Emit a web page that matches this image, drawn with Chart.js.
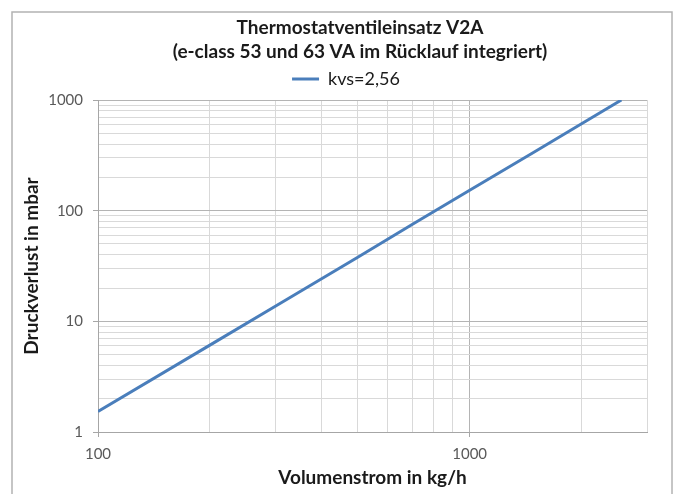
<!DOCTYPE html>
<html><head><meta charset="utf-8">
<script src="https://cdn.jsdelivr.net/npm/chart.js@4/dist/chart.umd.min.js"></script>
<style>html,body{margin:0;padding:0;background:#fff}#wrap{width:674px;height:494px;position:relative}</style>
</head><body><div id="wrap"><canvas id="c" width="674" height="494"></canvas></div>
<script>
// ---- data ----
const seriesName = 'kvs=2,56';
const flowValues = [100, 200, 300, 500, 700, 1000, 1500, 2000, 2560];      // Volumenstrom kg/h
const pressureValues = [1.53, 6.1, 13.7, 38, 75, 153, 343, 610, 1000];      // Druckverlust mbar
const xGridTicks = [100, 200, 300, 400, 500, 600, 700, 800, 900, 1000, 2000, 3000];
const yGridTicks = [1, 2, 3, 4, 5, 6, 7, 8, 9, 10, 20, 30, 40, 50, 60, 70, 80, 90, 100, 200, 300, 400, 500, 600, 700, 800, 900, 1000];
const xTickLabels = [100, 1000];
const yTickLabels = [1, 10, 100, 1000];
const titleLines = ['Thermostatventileinsatz V2A', '(e-class 53 und 63 VA im Rücklauf integriert)'];
const xTitle = 'Volumenstrom in kg/h';
const yTitle = 'Druckverlust in mbar';

const MAJOR = '#b4b4b4', MINOR = '#d9d9d9', AXIS = '#a6a6a6', BLUE = '#4a7ebb';
const FONT = 'Lato';

const framePlugin = {
  id: 'frame',
  beforeDraw(chart) {
    const ctx = chart.ctx;
    ctx.save();
    ctx.fillStyle = '#fff';
    ctx.fillRect(0, 0, chart.width, chart.height);
    ctx.strokeStyle = '#b3b3b3';
    ctx.lineWidth = 1.5;
    ctx.strokeRect(12, 12, 660, 500);
    ctx.restore();
  },
  afterLayout(chart) {
    if (chart.titleBlock) { chart.titleBlock.left = 46; chart.titleBlock.right = 674; }
    if (chart.legend) { chart.legend.left = 19; chart.legend.right = 673; }
  }
};

const data = {
  datasets: [{
    label: seriesName,
    data: flowValues.map((x, i) => ({x: x, y: pressureValues[i]})),
    borderColor: BLUE,
    backgroundColor: BLUE,
    borderWidth: 3,
    pointRadius: 0,
    tension: 0,
    fill: false
  }]
};

new Chart(document.getElementById('c'), {
  type: 'line',
  data: data,
  plugins: [framePlugin],
  options: {
    responsive: false,
    animation: false,
    layout: {padding: {left: 0, right: 27, top: 0, bottom: 0}},
    plugins: {
      title: {
        display: true,
        text: titleLines,
        color: '#1a1a1a',
        font: {family: FONT, size: 19, weight: 'bold', lineHeight: '24px'},
        padding: {top: 16, bottom: 0}
      },
      subtitle: {
        display: true,
        text: '',
        weight: 900,
        font: {size: 2, lineHeight: 1},
        padding: 0
      },
      legend: {
        display: true,
        position: 'top',
        labels: {
          color: '#1a1a1a',
          font: {family: FONT, size: 18},
          padding: 6,
          boxWidth: 27,
          boxHeight: 3,
          generateLabels: (chart) => chart.data.datasets.map((ds, i) => ({
            text: ds.label, fillStyle: ds.borderColor, strokeStyle: ds.borderColor,
            lineWidth: 0, hidden: false, datasetIndex: i, fontColor: '#1a1a1a'
          }))
        }
      },
      tooltip: {enabled: false}
    },
    scales: {
      x: {
        type: 'logarithmic',
        min: 100, max: 3000,
        afterBuildTicks: (s) => { s.ticks = xGridTicks.map(v => ({value: v})); },
        afterFit: (s) => { s.height = 62; },
        border: {display: true, color: AXIS, width: 1},
        grid: {
          color: (c) => (c.tick && xTickLabels.includes(c.tick.value) && c.tick.value !== 100) ? MAJOR : MINOR,
          tickColor: (c) => (c.tick && xTickLabels.includes(c.tick.value)) ? AXIS : 'rgba(0,0,0,0)',
          tickLength: 5,
          drawTicks: true
        },
        ticks: {
          autoSkip: false, maxRotation: 0, padding: 8,
          color: '#595959',
          font: {family: FONT, size: 15},
          callback: (v) => xTickLabels.includes(v) ? String(v) : ''
        },
        title: {
          display: true, text: xTitle, color: '#1a1a1a',
          font: {family: FONT, size: 19, weight: 'bold'},
          padding: {top: 0, bottom: 4.6}
        }
      },
      y: {
        type: 'logarithmic',
        min: 1, max: 1000,
        afterBuildTicks: (s) => { s.ticks = yGridTicks.map(v => ({value: v})); },
        afterFit: (s) => { s.width = 98; },
        border: {display: true, color: AXIS, width: 1},
        grid: {
          color: (c) => (c.tick && yTickLabels.includes(c.tick.value) && c.tick.value !== 1) ? MAJOR : MINOR,
          tickColor: (c) => (c.tick && yTickLabels.includes(c.tick.value)) ? AXIS : 'rgba(0,0,0,0)',
          tickLength: 5,
          drawTicks: true
        },
        ticks: {
          autoSkip: false, padding: 10,
          color: '#595959',
          font: {family: FONT, size: 15},
          callback: (v) => yTickLabels.includes(v) ? String(v) : ''
        },
        title: {
          display: true, text: yTitle, color: '#1a1a1a',
          font: {family: FONT, size: 19, weight: 'bold'},
          padding: {top: 20.6, bottom: 0}
        }
      }
    }
  }
});
</script></body></html>
